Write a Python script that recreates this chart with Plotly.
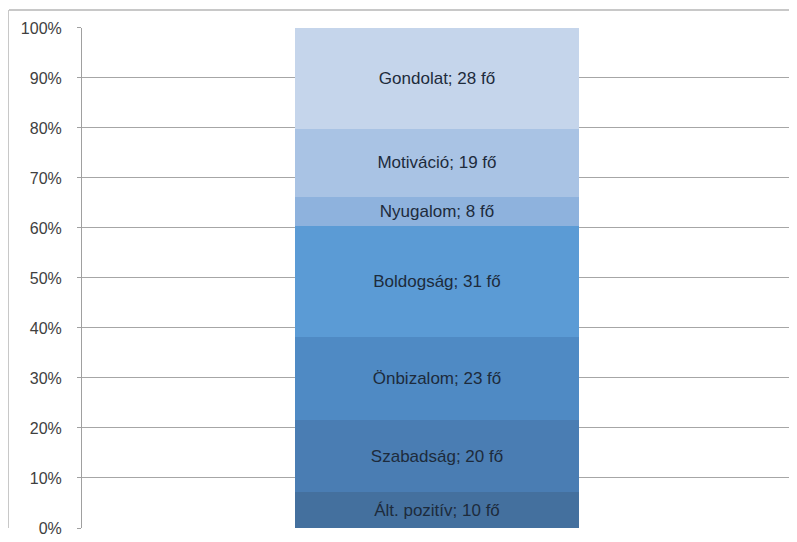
import plotly.graph_objects as go

categories = ["Ált. pozitív", "Szabadság", "Önbizalom", "Boldogság", "Nyugalom", "Motiváció", "Gondolat"]
counts = [10, 20, 23, 31, 8, 19, 28]
colors = ["#44709e", "#4a7db3", "#4f8ac4", "#5b9bd5", "#8eb2dd", "#a9c3e4", "#c5d5eb"]
tick_vals = [0, 10, 20, 30, 40, 50, 60, 70, 80, 90, 100]
tick_text = [f"{v}%" for v in tick_vals]

fig = go.Figure()
for name, n, c in zip(categories, counts, colors):
    fig.add_trace(go.Bar(
        x=[""], y=[n], name=name, marker=dict(color=c, line=dict(width=0)),
        text=[f"{name}; {n} fő"], textposition="inside", insidetextanchor="middle",
        textangle=0, constraintext="none",
        textfont=dict(family="Liberation Sans, Arial", size=17, color="#1d2b3c"),
    ))
# empty trace so the outer frame subplot (x2/y2) is drawn
fig.add_trace(go.Scatter(x=[], y=[], xaxis="x2", yaxis="y2", showlegend=False, hoverinfo="skip"))

fig.update_layout(
    width=789, height=534,
    margin=dict(l=1, r=5, t=2, b=14, pad=0, autoexpand=False),
    barmode="stack", barnorm="percent", bargap=0.6,
    showlegend=False,
    paper_bgcolor="white", plot_bgcolor="rgba(0,0,0,0)",
    xaxis=dict(domain=[0.0932, 1], showticklabels=False, showgrid=False, zeroline=False,
               showline=False, fixedrange=True, automargin=False),
    yaxis=dict(domain=[0, 0.9653], range=[0, 100], tickvals=tick_vals, ticktext=tick_text,
               showgrid=True, gridcolor="#a6a6a6", gridwidth=1,
               showline=True, linecolor="#a0a0a0", linewidth=1,
               ticks="outside", ticklen=4, tickcolor="#a0a0a0",
               ticklabelstandoff=12, zeroline=False, automargin=False,
               tickfont=dict(family="Liberation Sans, Arial", size=16, color="#404040")),
    xaxis2=dict(domain=[0, 1], anchor="free", position=1, side="bottom", showline=True,
                linecolor="#c8c8c8", linewidth=1.5, showgrid=False, zeroline=False,
                showticklabels=False, ticks="", range=[0, 1], fixedrange=True, automargin=False),
    yaxis2=dict(domain=[0, 1], anchor="x2", side="left", showline=True, linecolor="#c8c8c8",
                linewidth=1.5, showgrid=False, zeroline=False, showticklabels=False, ticks="",
                range=[0, 1], fixedrange=True, automargin=False),
)

fig.write_html("out.html")
